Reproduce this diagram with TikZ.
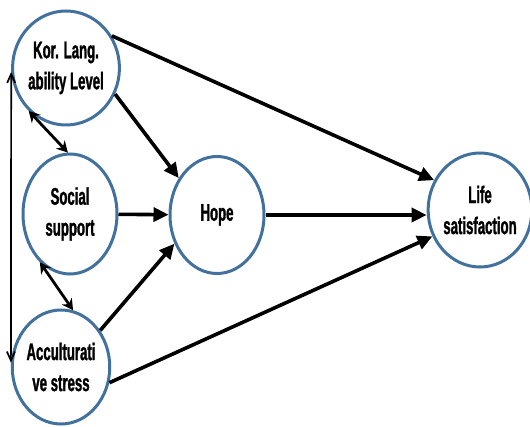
\documentclass[tikz,border=0pt]{standalone}
\usepackage{fontspec}
\setmainfont{Liberation Sans}[FakeStretch=0.55,FakeBold=1.2]
\usetikzlibrary{shapes.geometric,arrows.meta}
\definecolor{ring}{HTML}{41719C}
\begin{document}
\begin{tikzpicture}[x=1pt,y=-1pt,
  var/.style={ellipse, draw=ring, line width=3pt, minimum width=94pt, minimum height=114pt,
    inner sep=0pt, align=center, font=\fontsize{24}{31}\selectfont\bfseries},
  pathar/.style={line width=3.6pt, -{Triangle[length=15pt,width=14pt]}},
  cov/.style={line width=2.8pt, {Stealth[length=11pt,width=12pt]}-{Stealth[length=11pt,width=12pt]}},
  covlong/.style={line width=1.7pt, {Straight Barb[length=9pt,width=8pt]}-{Straight Barb[length=9pt,width=8pt]}}]
\useasboundingbox (0,0) rectangle (530,427);
\node[var] (kor) at (66,68) {Kor. Lang.\\ability Level};
\node[var, minimum height=120pt] (soc) at (70,214) {Social\\support};
\node[var, minimum height=117pt] (hope) at (217,215) {Hope};
\node[var] (life) at (480,210) {Life\\satisfaction};
\node[var] (acc) at (61,367) {Acculturati\\ve stress};
\draw[pathar] (kor.35) -- (life.147);
\draw[pathar] (kor.-28) -- (hope.136);
\draw[pathar] (soc) -- (hope);
\draw[pathar] (acc.43) -- (hope.214);
\draw[pathar] (hope.east) -- (life.west |- hope.east);
\draw[pathar] (acc.-18) -- (life.209);
\draw[cov] (kor.229) -- (soc.92);
\draw[cov] (soc.238) -- (acc.78);
\draw[covlong] (kor.184) -- (acc.175);
\end{tikzpicture}
\end{document}
